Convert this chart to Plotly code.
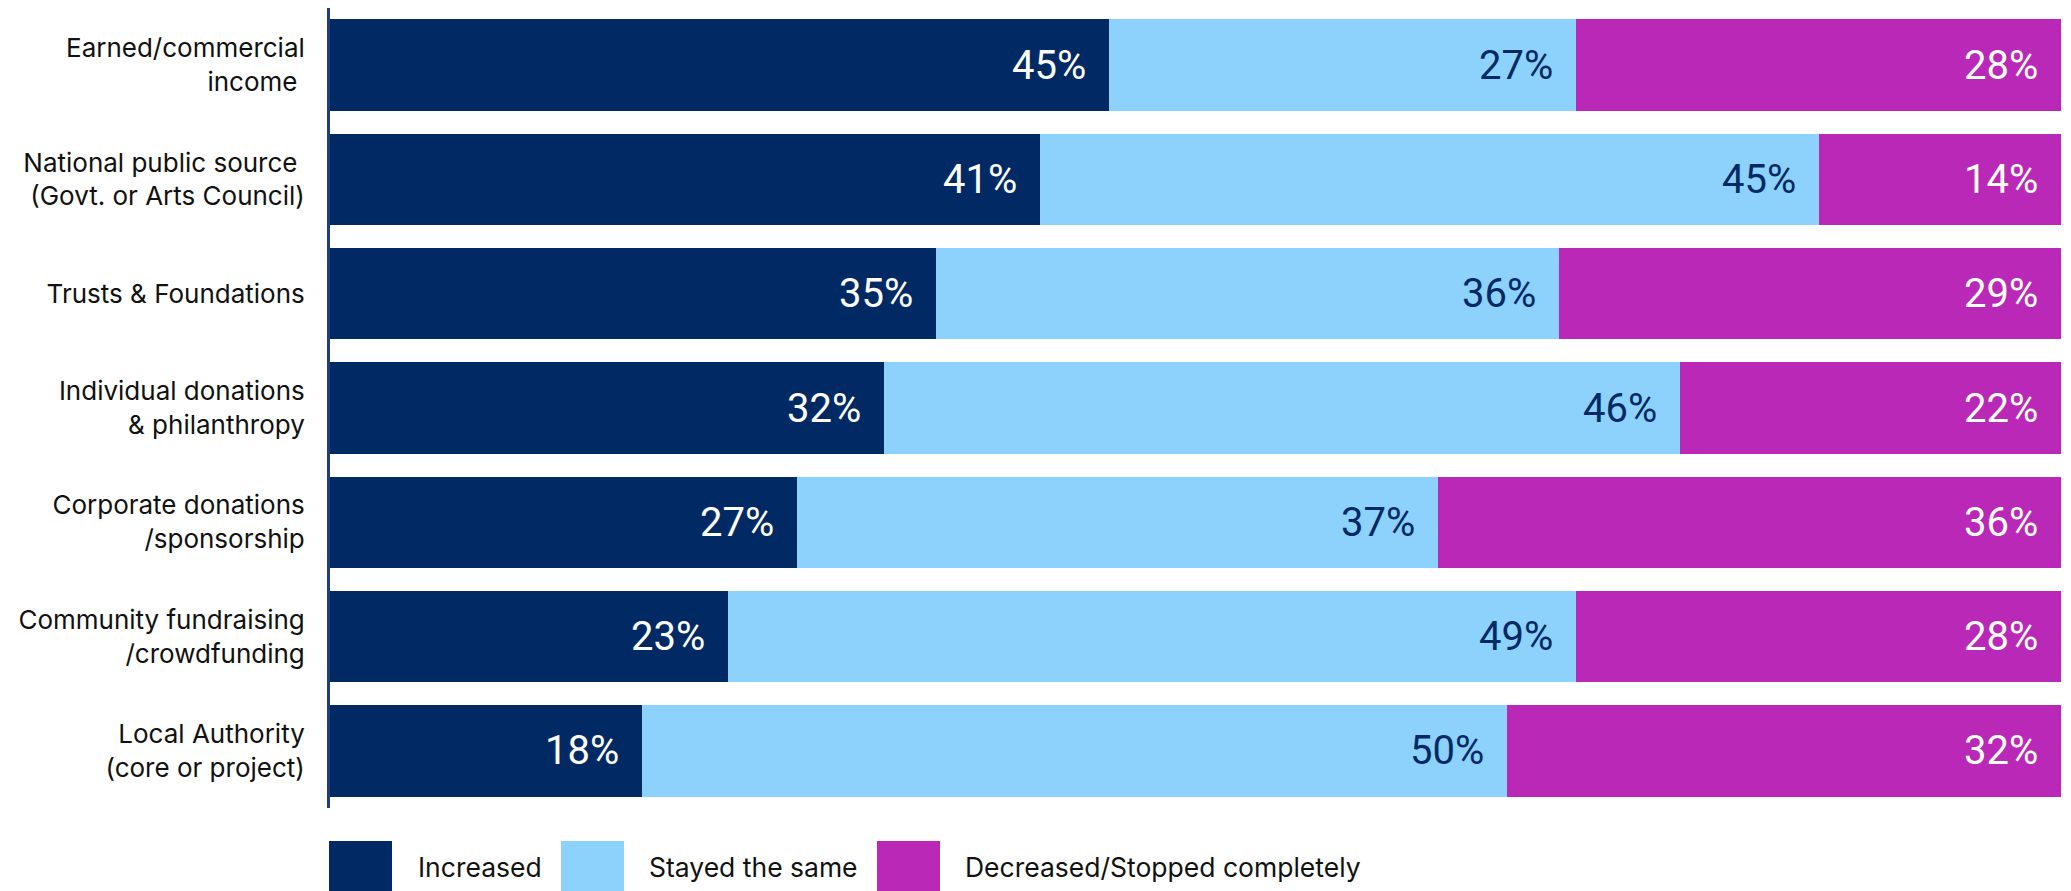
import plotly.graph_objects as go

# Funding sources and share of respondents (%) by change in income
categories = [
    "Earned/commercial<br>income\u00a0",
    "National public source\u00a0<br>(Govt. or Arts Council)",
    "Trusts & Foundations",
    "Individual donations<br>& philanthropy",
    "Corporate donations<br>/sponsorship",
    "Community fundraising<br>/crowdfunding",
    "Local Authority<br>(core or project)",
]
increased = [45, 41, 35, 32, 27, 23, 18]
stayed_same = [27, 45, 36, 46, 37, 49, 50]
decreased = [28, 14, 29, 22, 36, 28, 32]

series_names = ["Increased", "Stayed the same", "Decreased/Stopped completely"]
series_values = [increased, stayed_same, decreased]
bar_colors = ["#012A64", "#8DD1FD", "#BA28B8"]
label_colors = ["#FFFFFF", "#012A64", "#FFFFFF"]

W, H = 2071, 891
M_L, M_R, M_T, M_B = 330, 10, 8, 83
PLOT_W = W - M_L - M_R
PLOT_H = H - M_T - M_B


def px_x(px):
    return (px - M_L) / PLOT_W


def px_y(py):
    return (H - M_B - py) / PLOT_H


FONT = "Inter, Roboto, Arial, sans-serif"
VALUE_FONT = "Roboto, Inter, Arial, sans-serif"

fig = go.Figure()
for name, vals, col in zip(series_names, series_values, bar_colors):
    fig.add_trace(go.Bar(
        y=categories, x=vals, name=name, orientation="h",
        marker=dict(color=col, line=dict(width=0)),
        showlegend=False, hoverinfo="x+y",
    ))

# value labels, right-aligned inside each segment
annotations = []
for i, cat in enumerate(categories):
    cum = 0
    for vals, tcol in zip(series_values, label_colors):
        cum += vals[i]
        annotations.append(dict(
            x=cum, y=cat, xref="x", yref="y", text=f"{vals[i]}%",
            showarrow=False, xanchor="right", yanchor="middle", xshift=-21,
            font=dict(family=VALUE_FONT, size=40, color=tcol),
        ))

# legend row under the plot
legend_items = [
    (329, 392, 416, "Increased"),
    (561, 624, 647, "Stayed the same"),
    (877, 940, 963, "Decreased/Stopped completely"),
]
shapes = []
for (x0, x1, tx, label), col in zip(legend_items, bar_colors):
    shapes.append(dict(
        type="rect", xref="paper", yref="paper",
        x0=px_x(x0), x1=px_x(x1), y0=px_y(893), y1=px_y(841),
        fillcolor=col, line=dict(width=0), layer="above",
    ))
    annotations.append(dict(
        x=px_x(tx), y=px_y(867), xref="paper", yref="paper", text=label,
        showarrow=False, xanchor="left", yanchor="middle",
        font=dict(family=FONT, size=26.5, color="#111111"),
    ))

fig.update_layout(
    width=W, height=H,
    margin=dict(l=M_L, r=M_R, t=M_T, b=M_B),
    barmode="stack", bargap=0.2,
    plot_bgcolor="white", paper_bgcolor="white",
    font=dict(family=FONT, size=26, color="#111111"),
    xaxis=dict(range=[0, 100], showgrid=False, zeroline=False,
               showticklabels=False, showline=False, fixedrange=True),
    yaxis=dict(autorange="reversed", showgrid=False, zeroline=False,
               showline=True, linecolor="#1F3E7A", linewidth=3,
               ticks="", ticklabelstandoff=17,
               tickfont=dict(family=FONT, size=26, color="#111111")),
    annotations=annotations, shapes=shapes,
)

fig.write_html("out.html")
